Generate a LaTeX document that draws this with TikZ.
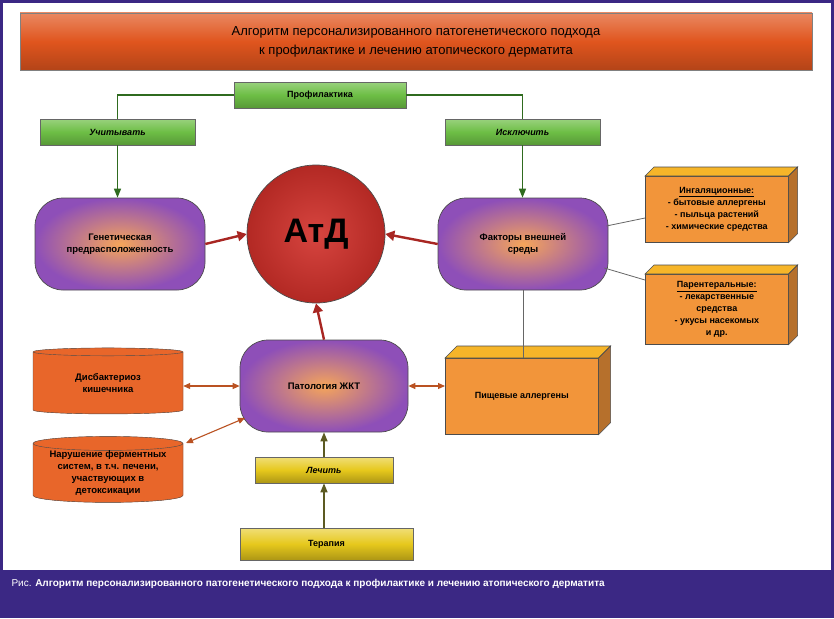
\documentclass[tikz,border=0pt]{standalone}
\usepackage{fontspec}
\setmainfont{Liberation Sans}
\usetikzlibrary{shapes.geometric,arrows.meta}
\definecolor{frame}{HTML}{3B2884}
\definecolor{titleor}{HTML}{E0551E}
\definecolor{grn}{HTML}{6DBE45}
\definecolor{grnd}{HTML}{2F6B1F}
\definecolor{ylw}{HTML}{E6C81C}
\definecolor{olv}{HTML}{5C5A22}
\definecolor{orbox}{HTML}{F2953A}
\definecolor{cyl}{HTML}{E8662A}
\definecolor{redc}{HTML}{D2302A}
\definecolor{purp}{HTML}{8E4FB8}
\definecolor{pcore}{HTML}{F5A55A}
\tikzset{
 bev/.style={draw=black!60,line width=0.6pt,inner sep=0pt,font=\fontsize{9}{11}\selectfont\bfseries},
 gbox/.style={bev,top color=grn!70!white,bottom color=grn!80!black,middle color=grn},
 ybox/.style={bev,top color=ylw!60!white,bottom color=ylw!75!black,middle color=ylw},
 pill/.style={draw=black!70,line width=0.7pt,rounded corners=28pt,inner color=pcore,outer color=purp,
   minimum width=170pt,minimum height=92pt,align=center,font=\fontsize{9.5}{12}\selectfont\bfseries},
 obox/.style={draw=black!70,fill=orbox,line width=0.6pt,align=center,font=\fontsize{9}{12}\selectfont\bfseries},
 cyln/.style={cylinder,shape border rotate=90,aspect=0.12,draw=black!70,fill=cyl,cylinder uses custom fill,
   cylinder body fill=cyl,cylinder end fill=cyl!80!white,minimum width=150pt,minimum height=66pt,
   align=center,font=\fontsize{9.5}{12}\selectfont\bfseries,inner sep=0pt},
 garr/.style={draw=grnd,line width=1.3pt,-{Triangle[length=9pt,width=7pt]}},
 gln/.style={draw=grnd,line width=1.3pt},
 rarr/.style={draw=redc!80!black,line width=2.4pt,-{Triangle[length=9pt,width=10pt]}},
 darr/.style={draw=cyl!80!black,line width=1.1pt,{Triangle[length=7pt,width=6pt]}-{Triangle[length=7pt,width=6pt]}},
 oarr/.style={draw=olv,line width=1.4pt,-{Triangle[length=9pt,width=7pt]}},
 gray/.style={draw=black!60,line width=0.8pt}
}
\newcommand{\threed}[2]{% node name, depth
 \fill[orbox!70!yellow,draw=black!70,line width=0.6pt] (#1.north west)--++(#2,-#2)--($(#1.north east)+(#2,-#2)$)--(#1.north east)--cycle;
 \fill[orbox!75!black,draw=black!70,line width=0.6pt] (#1.north east)--++(#2,-#2)--($(#1.south east)+(#2,-#2)$)--(#1.south east)--cycle;}
\usetikzlibrary{calc}
\begin{document}
\begin{tikzpicture}[x=1pt,y=-1pt]
\useasboundingbox (0,0) rectangle (834,618);
\fill[white] (0,0) rectangle (834,618);
\fill[frame] (0,570) rectangle (834,618);
\draw[frame,line width=3pt] (1.5,1.5) rectangle (832.5,616.5);
\node[anchor=west,text=white,font=\fontsize{10}{12}\selectfont] (cap) at (8,584) {Рис. \textbf{Алгоритм персонализированного патогенетического подхода к профилактике и лечению атопического дерматита}};
% title
\node[draw=black!50,top color=titleor!70!white,bottom color=titleor!80!black,middle color=titleor,
  minimum width=792pt,minimum height=57pt,align=center,font=\fontsize{13}{19}\selectfont] (title) at (416,41.5)
  {Алгоритм персонализированного патогенетического подхода\\к профилактике и лечению атопического дерматита};
% green boxes
\node[gbox,minimum width=172pt,minimum height=26pt] (prof) at (320,95) {Профилактика};
\node[gbox,minimum width=155pt,minimum height=26pt,font=\fontsize{9}{11}\selectfont\bfseries\itshape] (ucht) at (117.5,132) {Учитывать};
\node[gbox,minimum width=155pt,minimum height=26pt,font=\fontsize{9}{11}\selectfont\bfseries\itshape] (iskl) at (522.5,132) {Исключить};
% pills
\node[pill] (gen) at (120,244) {Генетическая\\предрасположенность};
\node[pill] (fak) at (523,244) {Факторы внешней\\среды};
\node[pill,minimum width=168pt] (pat) at (324,386) {Патология ЖКТ};
% circle
\node[circle,draw=black!70,line width=0.7pt,inner color=redc!90!white,outer color=redc!85!black,minimum size=138pt,
  font=\fontsize{34}{36}\selectfont\bfseries] (atd) at (316,234) {АтД};
% connectors top
\draw[gln] (prof.west) -| (ucht.north);
\draw[gln] (prof.east) -| (iskl.north);
\draw[garr] (ucht.south) -- (gen.north -| ucht.south);
\draw[garr] (iskl.south) -- (fak.north -| iskl.south);
\draw[rarr] (gen.east) -- (atd.west);
\draw[rarr] (fak.west) -- (atd.east);
\draw[rarr] (pat.north) -- (atd.south);
% orange 3d boxes
\node[obox,minimum width=143pt,minimum height=66pt,anchor=north west] (ing) at (645,176) {\underline{Ингаляционные:}\\- бытовые аллергены\\- пыльца растений\\- химические средства};
\node[obox,minimum width=143pt,minimum height=70pt,anchor=north west] (par) at (645,274) {\underline{Парентеральные:}\\- лекарственные\\средства\\- укусы насекомых\\и др.};
\node[obox,minimum width=153pt,minimum height=76pt,anchor=north west] (pish) at (445,358) {Пищевые аллергены};
\threed{ing}{9}
\threed{par}{9}
\threed{pish}{12}
\draw[gray] (fak.east) ++(-2,-18) coordinate (f1) -- (ing.west |- 0,218);
\draw[gray] (fak.east) ++(-4,24) coordinate (f2) -- (par.west |- 0,280);
\draw[gray] (fak.south) -- (pish.north -| fak.south);
\draw[darr] (pat.east) -- (pish.west |- pat.east);
% cylinders
\node[cyln] (dis) at (108,383) {Дисбактериоз\\кишечника};
\node[cyln] (nar) at (108,473) {Нарушение ферментных\\систем, в т.ч. печени,\\участвующих в\\детоксикации};
\draw[darr] (dis.east |- 0,386) -- (pat.west |- 0,386);
\coordinate (pw) at (245,418);
\draw[darr] (186,443) -- (pw);
% yellow
\node[ybox,minimum width=138pt,minimum height=26pt,font=\fontsize{9}{11}\selectfont\bfseries\itshape] (lech) at (324,470) {Лечить};
\node[ybox,minimum width=173pt,minimum height=32pt] (ter) at (326.5,544) {Терапия};
\draw[oarr] (ter.north -| lech.south) -- (lech.south);
\draw[oarr] (lech.north) -- (pat.south);
\end{tikzpicture}
\end{document}
